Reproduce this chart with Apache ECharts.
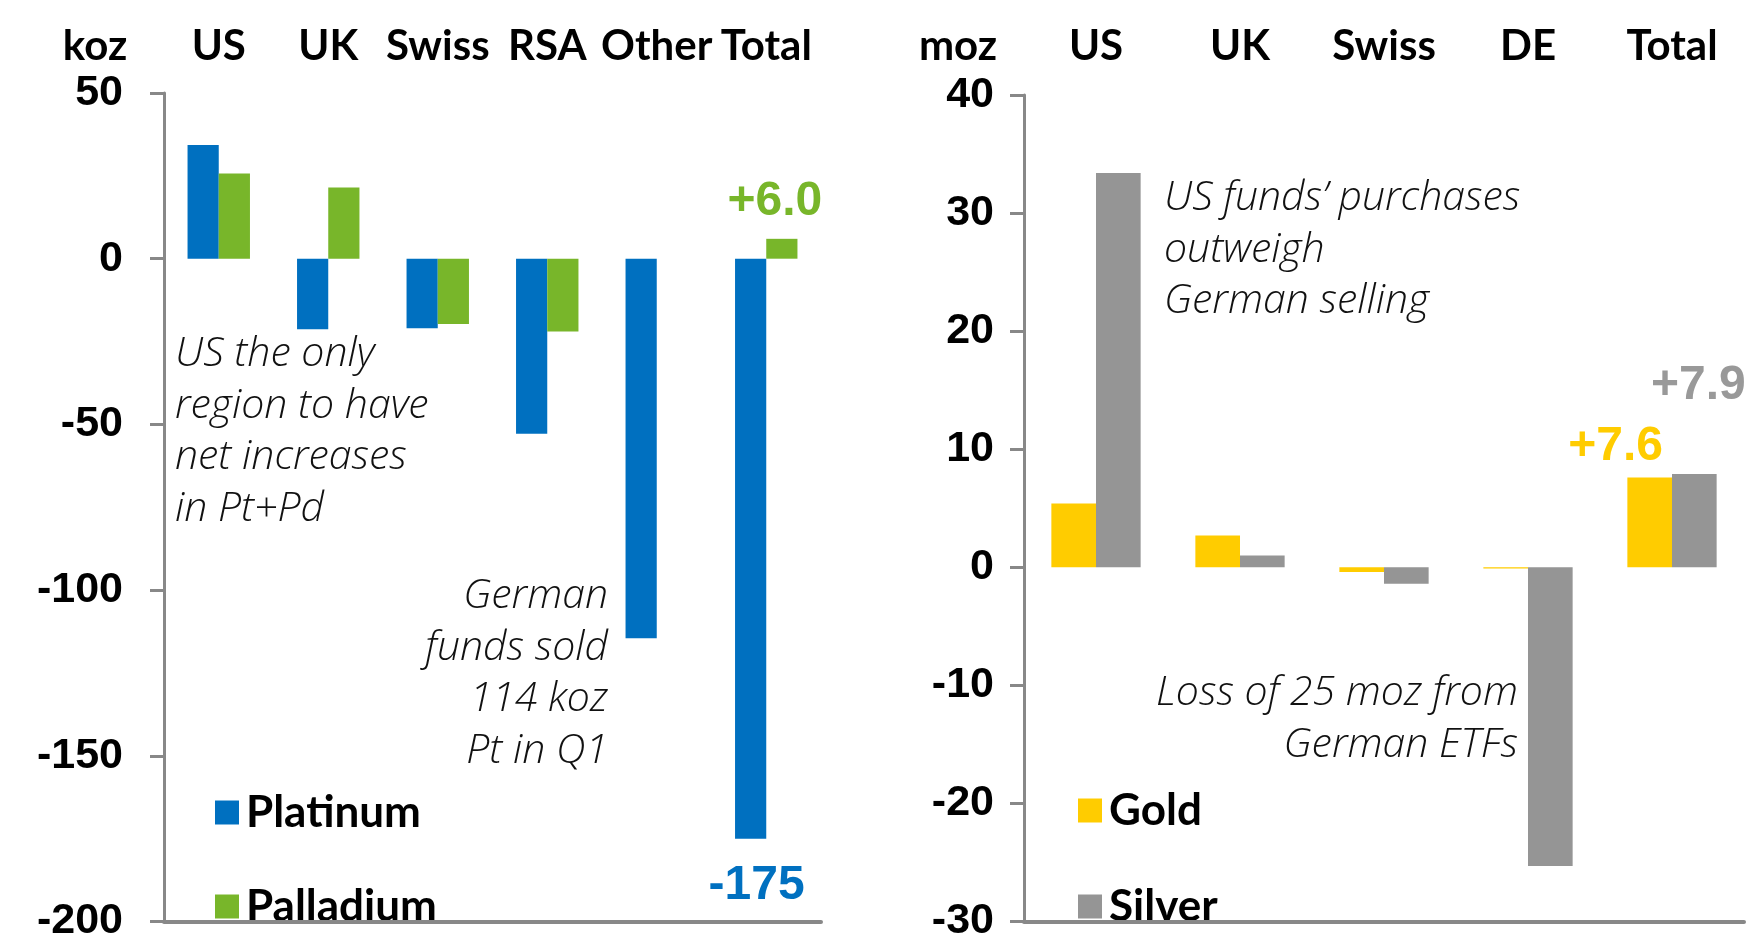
<!DOCTYPE html>
<html>
<head>
<meta charset="utf-8">
<script src="https://cdn.jsdelivr.net/npm/echarts@6/dist/echarts.min.js"></script>
<style>
  html, body { margin: 0; padding: 0; background: #fff; }
  #main { width: 1752px; height: 943px; }
</style>
</head>
<body>
<div id="main"></div>
<script>
// PGM ETF flows, koz
var pgmRegions = ["US", "UK", "Swiss", "RSA", "Other", "Total"];
var platinum = [34.3, -21.3, -21.0, -52.8, -114.5, -175];
var palladium = [25.7, 21.5, -19.7, -22.0, 0, 6.0];

// Gold / silver ETF flows, moz
var pmRegions = ["US", "UK", "Swiss", "DE", "Total"];
var gold = [5.4, 2.7, -0.4, -0.1, 7.6];
var silver = [33.4, 1.0, -1.4, -25.3, 7.9];

var pgmTicks = { min: -200, max: 50, interval: 50 };
var pmTicks = { min: -30, max: 40, interval: 10 };

var BOLD = 'Lato, "Liberation Sans", sans-serif';
var WIDE = '"Liberation Sans", Arial, sans-serif';
var NOTE = '"Open Sans", Roboto, sans-serif';
var AXIS_GREY = "#888888";

var myChart = echarts.init(document.getElementById("main"));

function signed(v, digits) {
  return (v > 0 ? "+" : "") + v.toFixed(digits);
}

// only the Total bar carries a value label
function withTotalLabel(values, label) {
  return values.map(function (v, i) {
    if (i !== values.length - 1) return v;
    return { value: v, label: Object.assign({ show: true }, label) };
  });
}

function valueLabel(color, text, position, distance, offset) {
  return {
    position: position,
    distance: distance,
    offset: offset,
    formatter: text,
    color: color,
    fontFamily: WIDE,
    fontWeight: "bold",
    fontSize: 48
  };
}

function topAxis(gridIndex, data, margin) {
  return {
    gridIndex: gridIndex,
    type: "category",
    data: data,
    position: "top",
    axisLine: { show: false },
    axisTick: { show: false },
    axisLabel: {
      interval: 0, fontFamily: BOLD, fontWeight: "bold", fontSize: 42,
      color: "#000", margin: margin
    }
  };
}

function zeroAxis(gridIndex, data) {
  return {
    gridIndex: gridIndex,
    type: "category",
    data: data,
    position: "bottom",
    z: 5,
    axisLine: { onZero: true, lineStyle: { color: AXIS_GREY, width: 4 } },
    axisTick: { show: false },
    axisLabel: { show: false }
  };
}

function valueAxis(gridIndex, ticks, margin) {
  return {
    gridIndex: gridIndex,
    type: "value",
    min: ticks.min,
    max: ticks.max,
    interval: ticks.interval,
    axisLine: { show: true, lineStyle: { color: AXIS_GREY, width: 3 } },
    axisTick: { show: true, length: 14, lineStyle: { color: AXIS_GREY, width: 3 } },
    splitLine: { show: false },
    axisLabel: { fontFamily: WIDE, fontWeight: "bold", fontSize: 43, color: "#000", margin: margin }
  };
}

function note(x, y, align, text) {
  return {
    type: "text",
    x: x,
    y: y,
    style: {
      text: text,
      align: align,
      verticalAlign: "top",
      lineHeight: 51.5,
      fontFamily: NOTE,
      fontStyle: "italic",
      fontWeight: 300,
      fontSize: 41,
      fill: "#111"
    }
  };
}

function unitLabel(x, text) {
  return {
    type: "text",
    x: x,
    y: 67,
    style: {
      text: text,
      align: "center",
      verticalAlign: "bottom",
      fontFamily: BOLD,
      fontWeight: "bold",
      fontSize: 42,
      fill: "#000"
    }
  };
}

function legendBox(names, left, top, gap) {
  return {
    data: names,
    orient: "vertical",
    left: left,
    top: top,
    padding: 0,
    itemWidth: 24,
    itemHeight: 24,
    itemGap: gap,
    icon: "rect",
    selectedMode: false,
    textStyle: {
      fontFamily: BOLD,
      fontWeight: "bold",
      fontSize: 44,
      lineHeight: 45,
      color: "#000",
      padding: [0, 0, 0, 2]
    }
  };
}

option = {
  animation: false,
  backgroundColor: "#fff",
  grid: [
    { left: 164, top: 93, width: 657, height: 832 },
    { left: 1024, top: 95, width: 720, height: 833 }
  ],
  xAxis: [
    topAxis(0, pgmRegions, 26),
    zeroAxis(0, pgmRegions),
    topAxis(1, pmRegions, 28),
    zeroAxis(1, pmRegions)
  ],
  yAxis: [valueAxis(0, pgmTicks, 41), valueAxis(1, pmTicks, 30)],
  legend: [
    legendBox(["Platinum", "Palladium"], 215, 790, 49),
    legendBox(["Gold", "Silver"], 1078, 788, 51)
  ],
  series: [
    {
      name: "Platinum", type: "bar", xAxisIndex: 0, yAxisIndex: 0,
      barGap: "0%", barCategoryGap: "43%",
      itemStyle: { color: "#0070C0" },
      data: withTotalLabel(platinum,
        valueLabel("#0070C0", String(platinum[platinum.length - 1]), "bottom", 23, [6, 0]))
    },
    {
      name: "Palladium", type: "bar", xAxisIndex: 0, yAxisIndex: 0,
      barGap: "0%", barCategoryGap: "43%",
      itemStyle: { color: "#78B62A" },
      data: withTotalLabel(palladium,
        valueLabel("#78B62A", signed(palladium[palladium.length - 1], 1), "top", 13, [-7, 0]))
    },
    {
      name: "Gold", type: "bar", xAxisIndex: 2, yAxisIndex: 1,
      barGap: "0%", barCategoryGap: "38%",
      itemStyle: { color: "#FFCC00" },
      data: withTotalLabel(gold,
        valueLabel("#FFCC00", signed(gold[gold.length - 1], 1), "top", 7, [-34, 0]))
    },
    {
      name: "Silver", type: "bar", xAxisIndex: 2, yAxisIndex: 1,
      barGap: "0%", barCategoryGap: "38%",
      itemStyle: { color: "#959595" },
      data: withTotalLabel(silver,
        valueLabel("#999999", signed(silver[silver.length - 1], 1), "top", 64, [4, 0]))
    }
  ],
  graphic: [
    unitLabel(95, "koz"),
    unitLabel(958, "moz"),
    note(175, 329, "left", "US the only\nregion to have\nnet increases\nin Pt+Pd"),
    note(608, 571, "right", "German\nfunds sold\n114 koz\nPt in Q1"),
    note(1164, 173, "left", "US funds\u2019 purchases\noutweigh\nGerman selling"),
    note(1518, 668, "right", "Loss of 25 moz from\nGerman ETFs")
  ]
};

myChart.setOption(option);
window.addEventListener("resize", function () {
  myChart.resize();
});
</script>
</body>
</html>
